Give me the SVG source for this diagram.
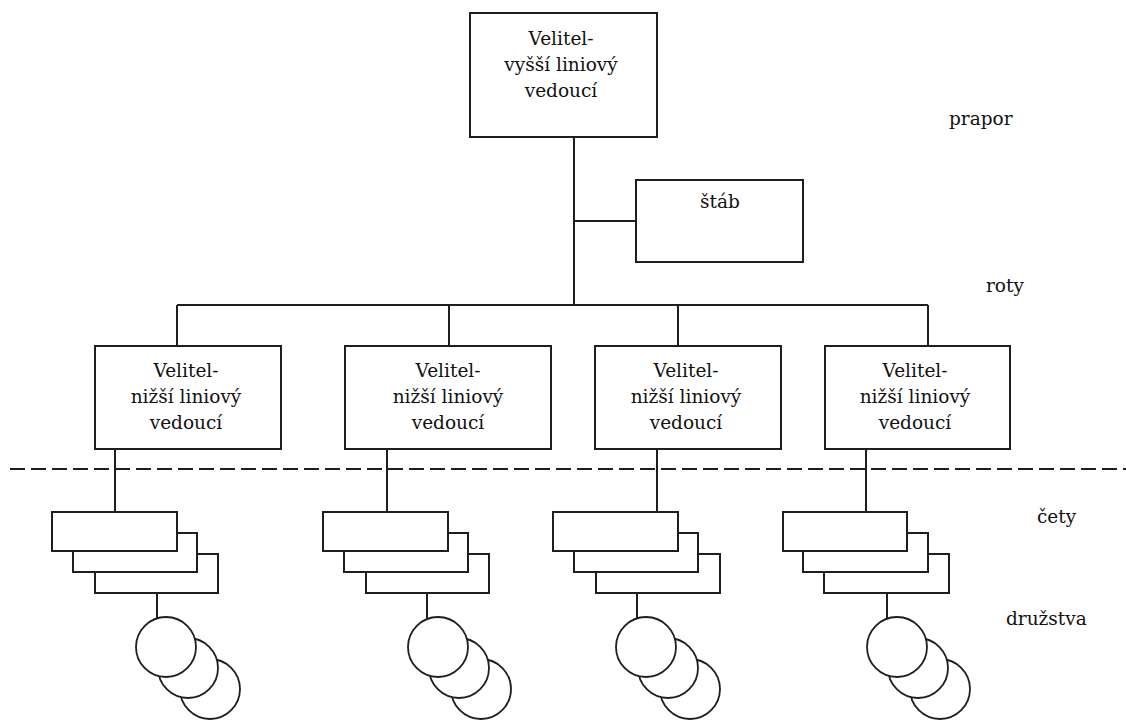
<svg xmlns="http://www.w3.org/2000/svg" width="1126" height="720" viewBox="0 0 1126 720">
<style>
.box{fill:#fff;stroke:#1e1e1e;stroke-width:2}
.sm{fill:#fff;stroke:#1e1e1e;stroke-width:2}
.cir{fill:#fff;stroke:#1e1e1e;stroke-width:1.8}
.ln{fill:none;stroke:#1e1e1e;stroke-width:2}
.dash{fill:none;stroke:#1e1e1e;stroke-width:2;stroke-dasharray:15 6}
.t{font-family:'DejaVu Serif','Liberation Serif',serif;font-size:18.5px;fill:#111}
.c{text-anchor:middle}
</style>
<rect width="1126" height="720" fill="#fff"/>
<g id="connectors">
<line class="ln" x1="574" y1="137" x2="574" y2="305"/>
<line class="ln" x1="574" y1="221" x2="636" y2="221"/>
<line class="ln" x1="177" y1="305" x2="928" y2="305"/>
<line class="ln" x1="177" y1="305" x2="177" y2="346"/>
<line class="ln" x1="449" y1="305" x2="449" y2="346"/>
<line class="ln" x1="678" y1="305" x2="678" y2="346"/>
<line class="ln" x1="928" y1="305" x2="928" y2="346"/>
<line class="ln" x1="115" y1="449" x2="115" y2="512"/>
<line class="ln" x1="387" y1="449" x2="387" y2="512"/>
<line class="ln" x1="657" y1="449" x2="657" y2="512"/>
<line class="ln" x1="866" y1="449" x2="866" y2="512"/>
<line class="ln" x1="157" y1="593" x2="157" y2="618"/>
<line class="ln" x1="427" y1="593" x2="427" y2="618"/>
<line class="ln" x1="637" y1="593" x2="637" y2="618"/>
<line class="ln" x1="887" y1="593" x2="887" y2="618"/>
</g>
<line id="divider" class="dash" x1="10" y1="469" x2="1126" y2="469"/>
<g id="n-velitel-top" class="t">
<rect class="box" x="470" y="13" width="187" height="124"/>
<text class="c" x="561" y="45">Velitel-</text>
<text class="c" x="561" y="71">vyšší liniový</text>
<text class="c" x="561" y="97">vedoucí</text>
</g>
<g id="n-stab" class="t">
<rect class="box" x="636" y="180" width="167" height="82"/>
<text class="c" x="720" y="208">štáb</text>
</g>
<g id="n-velitel-1" class="t">
<rect class="box" x="95" y="346" width="186" height="103"/>
<text class="c" x="186" y="377">Velitel-</text>
<text class="c" x="186" y="403">nižší liniový</text>
<text class="c" x="186" y="429">vedoucí</text>
</g>
<g id="n-velitel-2" class="t">
<rect class="box" x="345" y="346" width="206" height="103"/>
<text class="c" x="448" y="377">Velitel-</text>
<text class="c" x="448" y="403">nižší liniový</text>
<text class="c" x="448" y="429">vedoucí</text>
</g>
<g id="n-velitel-3" class="t">
<rect class="box" x="595" y="346" width="186" height="103"/>
<text class="c" x="686" y="377">Velitel-</text>
<text class="c" x="686" y="403">nižší liniový</text>
<text class="c" x="686" y="429">vedoucí</text>
</g>
<g id="n-velitel-4" class="t">
<rect class="box" x="825" y="346" width="185" height="103"/>
<text class="c" x="915" y="377">Velitel-</text>
<text class="c" x="915" y="403">nižší liniový</text>
<text class="c" x="915" y="429">vedoucí</text>
</g>
<g id="n-cety-1">
<rect class="sm" x="95" y="554" width="123" height="39"/>
<rect class="sm" x="73" y="533" width="124" height="39"/>
<rect class="sm" x="52" y="512" width="125" height="39"/>
</g>
<g id="n-cety-2">
<rect class="sm" x="366" y="554" width="123" height="39"/>
<rect class="sm" x="344" y="533" width="124" height="39"/>
<rect class="sm" x="323" y="512" width="125" height="39"/>
</g>
<g id="n-cety-3">
<rect class="sm" x="596" y="554" width="124" height="39"/>
<rect class="sm" x="574" y="533" width="124" height="39"/>
<rect class="sm" x="553" y="512" width="125" height="39"/>
</g>
<g id="n-cety-4">
<rect class="sm" x="824" y="554" width="125" height="39"/>
<rect class="sm" x="803" y="533" width="125" height="39"/>
<rect class="sm" x="783" y="512" width="124" height="39"/>
</g>
<g id="n-druzstva-1">
<circle class="cir" cx="210" cy="689" r="30"/>
<circle class="cir" cx="188" cy="668" r="30"/>
<circle class="cir" cx="166" cy="647" r="30"/>
</g>
<g id="n-druzstva-2">
<circle class="cir" cx="481" cy="689" r="30"/>
<circle class="cir" cx="459" cy="668" r="30"/>
<circle class="cir" cx="438" cy="647" r="30"/>
</g>
<g id="n-druzstva-3">
<circle class="cir" cx="690" cy="689" r="30"/>
<circle class="cir" cx="668" cy="668" r="30"/>
<circle class="cir" cx="646" cy="647" r="30"/>
</g>
<g id="n-druzstva-4">
<circle class="cir" cx="940" cy="689" r="30"/>
<circle class="cir" cx="918" cy="668" r="30"/>
<circle class="cir" cx="897" cy="647" r="30"/>
</g>
<g id="labels" class="t">
<text x="949" y="125">prapor</text>
<text x="986" y="292">roty</text>
<text x="1037" y="523">čety</text>
<text x="1006" y="625">družstva</text>
</g>
</svg>
